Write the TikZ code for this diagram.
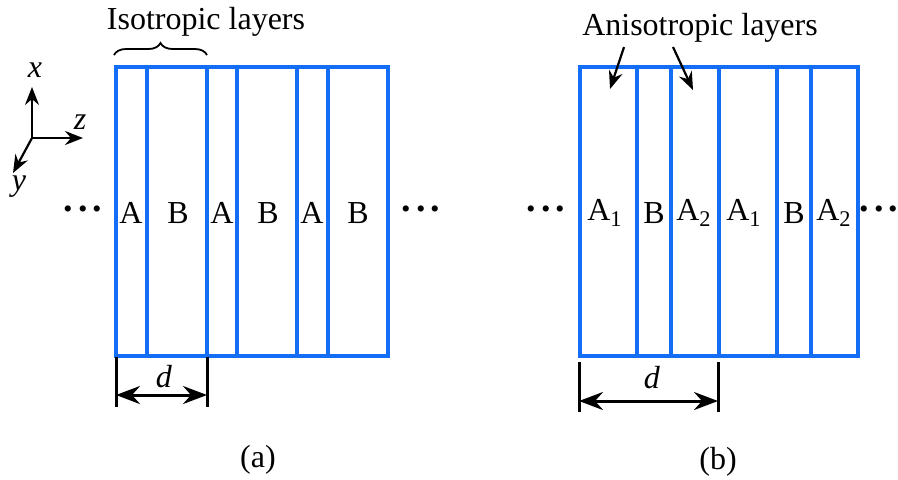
\documentclass[tikz,border=0pt]{standalone}
\usepackage{fontspec}
\setmainfont{Liberation Serif}
\usetikzlibrary{arrows.meta, decorations.pathreplacing, positioning}

\definecolor{layerblue}{RGB}{20,110,245}
\newcommand{\layerdots}{\raisebox{0.28em}{\fontsize{19}{20}\selectfont\bfseries .\hspace{2.5pt}.\hspace{2.5pt}.}}

\begin{document}
\begin{tikzpicture}[x=0.5pt, y=-0.5pt,
  font=\fontsize{16}{19}\selectfont,
  layer/.style={draw=layerblue, line width=1.6pt},
  lbl/.style={inner sep=0pt},
  arr/.style={-{Stealth[length=9pt, width=7pt, inset=3pt]}, line width=1.1pt},
  dim/.style={{Stealth[length=12pt, width=9pt, inset=4pt]}-{Stealth[length=12pt, width=9pt, inset=4pt]}, line width=1.5pt},
  tick/.style={line width=1.5pt}]

  \useasboundingbox (0,0) rectangle (898,479);

  % axes
  \coordinate (o) at (32,138);
  \coordinate (xt) at (32,87);
  \coordinate (zt) at (83,138);
  \coordinate (yt) at (13,173);
  \node[lbl] (xl) at (35,70) {\textit{x}};
  \node[lbl] (zl) at (80,122) {\textit{z}};
  \node[lbl] (yl) at (19,187) {\textit{y}};
  \draw[arr] (o) -- (xt);
  \draw[arr] (o) -- (zt);
  \draw[arr] (o) -- (yt);

  % (a) isotropic stack
  \draw[layer] (116,67) rectangle (388,356);
  \foreach \xx in {147,207,237,297,328}
    \draw[layer] (\xx,67) -- (\xx,356);
  \node[lbl] (a1) at (131,213) {A};
  \node[lbl] (b1) at (178,213) {B};
  \node[lbl] (a2) at (222,213) {A};
  \node[lbl] (b2) at (268,213) {B};
  \node[lbl] (a3) at (312,213) {A};
  \node[lbl] (b3) at (358,213) {B};
  \node[lbl] (dotsal) at (83,213) {\layerdots};
  \node[lbl] (dotsar) at (421,213) {\layerdots};

  \node (iso) at (206,22) {Isotropic layers};
  \coordinate (bra) at (114,55);
  \coordinate (brb) at (207,55);
  \draw[decorate, decoration={brace, amplitude=6pt}, line width=0.9pt] (bra) -- (brb);

  \coordinate (ta1) at (116,357);
  \coordinate (ta2) at (116,407);
  \coordinate (tb1) at (207,357);
  \coordinate (tb2) at (207,407);
  \draw[tick] (ta1) -- (ta2);
  \draw[tick] (tb1) -- (tb2);
  \coordinate (da) at (116,395);
  \coordinate (db) at (207,395);
  \draw[dim] (da) -- (db);
  \node[lbl] (dla) at (164,377) {\textit{d}};
  \node (capa) at (258,460) {(a)};

  % (b) anisotropic stack
  \draw[layer] (580,67) rectangle (858,356);
  \foreach \xx in {637,671,719,777,811}
    \draw[layer] (\xx,67) -- (\xx,356);
  \node[lbl] (c1) at (605,213) {A\textsubscript{1}};
  \node[lbl] (e1) at (654,213) {B};
  \node[lbl] (c2) at (694,213) {A\textsubscript{2}};
  \node[lbl] (c3) at (744,213) {A\textsubscript{1}};
  \node[lbl] (e2) at (794,213) {B};
  \node[lbl] (c4) at (834,213) {A\textsubscript{2}};
  \node[lbl] (dotsbl) at (546,213) {\layerdots};
  \node[lbl] (dotsbr) at (879,213) {\layerdots};

  \node (aniso) at (700,28) {Anisotropic layers};
  \coordinate (p1) at (624,47);
  \coordinate (q1) at (610,89);
  \coordinate (p2) at (673,47);
  \coordinate (q2) at (693,90);
  \draw[arr] (p1) -- (q1);
  \draw[arr] (p2) -- (q2);

  \coordinate (tc1) at (579,362);
  \coordinate (tc2) at (579,412);
  \coordinate (td1) at (718,362);
  \coordinate (td2) at (718,412);
  \draw[tick] (tc1) -- (tc2);
  \draw[tick] (td1) -- (td2);
  \coordinate (dc) at (579,401);
  \coordinate (dd) at (718,401);
  \draw[dim] (dc) -- (dd);
  \node[lbl] (dlb) at (652,378) {\textit{d}};
  \node (capb) at (718,462) {(b)};
\end{tikzpicture}
\end{document}
